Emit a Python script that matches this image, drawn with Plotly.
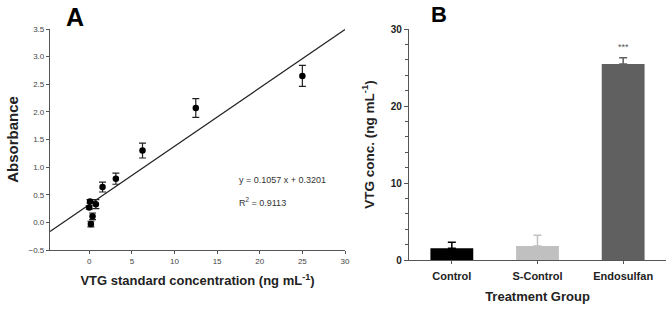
import plotly.graph_objects as go

# Panel A data: VTG standard curve
conc = [0, 0.0977, 0.195, 0.39, 0.78, 1.5625, 3.125, 6.25, 12.5, 25]
absorbance = [0.27, 0.38, -0.03, 0.11, 0.33, 0.64, 0.79, 1.30, 2.07, 2.65]
abs_err = [0.03, 0.03, 0.05, 0.06, 0.08, 0.09, 0.10, 0.135, 0.17, 0.19]
slope = 0.1057
intercept = 0.3201
r2 = 0.9113
xa_range = [-4.6, 30]
ya_range = [-0.5, 3.5]

# Panel B data: VTG concentration by treatment
groups = ["Control", "S-Control", "Endosulfan"]
vtg = [1.52, 1.82, 25.44]
vtg_err = [0.78, 1.4, 0.83]
bar_colors = ["#000000", "#c0c0c0", "#606060"]

FONT = "Arial, Liberation Sans, sans-serif"

fig = go.Figure()

# regression line
fit_x = xa_range
fit_y = [slope * v + intercept for v in fit_x]
fig.add_trace(go.Scatter(x=fit_x, y=fit_y, mode="lines",
                         line=dict(color="#222222", width=1.2),
                         xaxis="x", yaxis="y", showlegend=False, cliponaxis=True))
fig.add_trace(go.Scatter(x=conc, y=absorbance, mode="markers",
                         marker=dict(color="#000000", size=6.5),
                         error_y=dict(type="data", array=abs_err, color="#222222",
                                      thickness=1.2, width=3.5),
                         xaxis="x", yaxis="y", showlegend=False))

for g, v, e, c in zip(groups, vtg, vtg_err, bar_colors):
    fig.add_trace(go.Bar(x=[g], y=[v], marker=dict(color=c, line=dict(width=0)),
                         width=0.5,
                         error_y=dict(type="data", array=[e], arrayminus=[0],
                                      symmetric=False, color=c, thickness=1.5, width=4),
                         xaxis="x2", yaxis="y2", showlegend=False))

axis_col = "#555555"
fig.update_layout(
    width=672, height=313,
    margin=dict(l=0, r=0, t=0, b=0, autoexpand=False),
    paper_bgcolor="white", plot_bgcolor="white",
    barmode="overlay",
    font=dict(family=FONT, color="#222222"),
    xaxis=dict(domain=[50/672, 345/672], range=xa_range, anchor="y", automargin=False,
               tickvals=[0, 5, 10, 15, 20, 25, 30],
               showline=True, linecolor=axis_col, linewidth=1.2,
               ticks="outside", ticklen=3, tickcolor=axis_col,
               showgrid=False, zeroline=False,
               tickfont=dict(size=8, color="#444444"),
               title=dict(text="VTG standard concentration (ng mL<sup>-1</sup>)",
                          font=dict(size=13, color="#222222", family=FONT, weight="bold"),
                          standoff=11)),
    yaxis=dict(domain=[63/313, 284/313], range=ya_range, anchor="x", automargin=False,
               tickvals=[-0.5, 0, 0.5, 1, 1.5, 2, 2.5, 3, 3.5], tickformat=".1f",
               showline=True, linecolor=axis_col, linewidth=1.2,
               ticks="outside", ticklen=3, tickcolor=axis_col,
               showgrid=False, zeroline=False,
               tickfont=dict(size=8, color="#444444"),
               title=dict(text="Absorbance",
                          font=dict(size=15, color="#222222", family=FONT, weight="bold"),
                          standoff=6)),
    xaxis2=dict(domain=[409/672, 666/672], range=[-0.5, 2.5], anchor="y2", automargin=False,
                type="category",
                showline=True, linecolor=axis_col, linewidth=1.2,
                ticks="outside", ticklen=3, tickcolor=axis_col,
                ticklabelstandoff=3,
                showgrid=False, zeroline=False,
                tickfont=dict(size=11, color="#222222", family=FONT, weight="bold"),
                title=dict(text="Treatment Group",
                           font=dict(size=13, color="#222222", family=FONT, weight="bold"),
                           standoff=10)),
    yaxis2=dict(domain=[53/313, 284/313], range=[0, 30], anchor="x2", automargin=False,
                tickvals=[0, 10, 20, 30],
                showline=True, linecolor=axis_col, linewidth=1.2,
                ticks="outside", ticklen=4, tickcolor=axis_col,
                minor=dict(dtick=2, ticks="outside", ticklen=3, tickcolor=axis_col),
                showgrid=False, zeroline=False,
                tickfont=dict(size=10, color="#222222", family=FONT, weight="bold"),
                title=dict(text="VTG conc. (ng mL<sup>-1</sup>)",
                           font=dict(size=13.5, color="#222222", family=FONT, weight="bold"),
                           standoff=13)),
)

fig.add_annotation(x=237/672, y=(313-180)/313, xref="paper", yref="paper",
                   text=f"y = {slope:.4f} x + {intercept:.4f}", showarrow=False,
                   xanchor="left", yanchor="middle",
                   font=dict(size=9, color="#333333", family=FONT))
fig.add_annotation(x=237/672, y=(313-202)/313, xref="paper", yref="paper",
                   text=f"R<sup>2</sup> = {r2:.4f}", showarrow=False,
                   xanchor="left", yanchor="middle",
                   font=dict(size=9, color="#333333", family=FONT))
fig.add_annotation(x=groups[2], y=vtg[2] + vtg_err[2], xref="x2", yref="y2",
                   text="***", showarrow=False, yanchor="bottom", yshift=4,
                   font=dict(size=9, color="#555555", family=FONT))
fig.add_annotation(x=75/672, y=1 - 17/313, xref="paper", yref="paper",
                   text="<b>A</b>", showarrow=False, xanchor="center", yanchor="middle",
                   font=dict(size=25, color="#000000", family=FONT))
fig.add_annotation(x=439/672, y=1 - 15/313, xref="paper", yref="paper",
                   text="<b>B</b>", showarrow=False, xanchor="center", yanchor="middle",
                   font=dict(size=22, color="#000000", family=FONT))

fig.write_html("out.html", config={"displayModeBar": False},
               post_script="document.body.style.margin='0';document.body.style.overflow='hidden';")
